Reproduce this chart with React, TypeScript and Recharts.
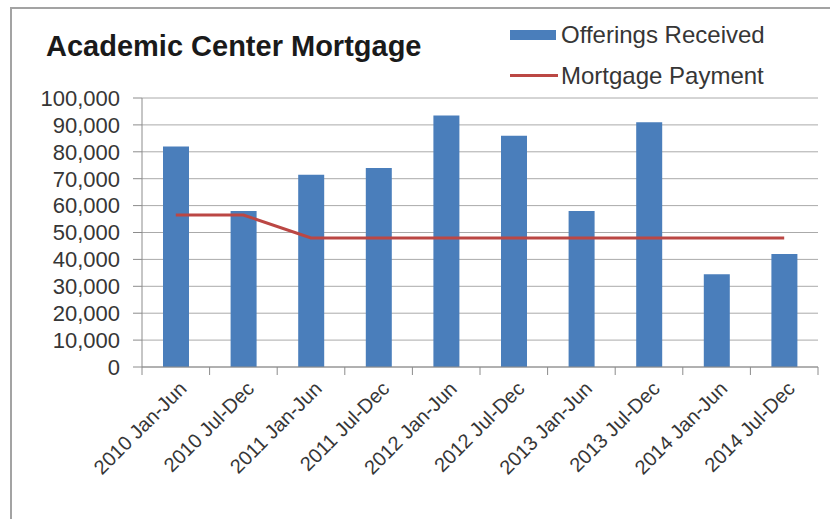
import { Bar, CartesianGrid, ComposedChart, Line, XAxis, YAxis } from "recharts";

const periods = [
  "2010 Jan-Jun",
  "2010 Jul-Dec",
  "2011 Jan-Jun",
  "2011 Jul-Dec",
  "2012 Jan-Jun",
  "2012 Jul-Dec",
  "2013 Jan-Jun",
  "2013 Jul-Dec",
  "2014 Jan-Jun",
  "2014 Jul-Dec",
];
const offerings = [82000, 58000, 71500, 74000, 93500, 86000, 58000, 91000, 34500, 42000];
const mortgage = [56500, 56500, 48000, 48000, 48000, 48000, 48000, 48000, 48000, 48000];
const yTicks = [0, 10000, 20000, 30000, 40000, 50000, 60000, 70000, 80000, 90000, 100000];

const data = periods.map((p, i) => ({ period: p, offerings: offerings[i], mortgage: mortgage[i] }));

const BLUE = "#4a7ebb";
const RED = "#bb4744";
const AXIS = "#8c8c8c";
const TEXT = "#363636";
const FONT = "'Liberation Sans', Arial, sans-serif";

const fmt = (v: number) => v.toLocaleString("en-US");

// rotated label plus a tick mark on the category boundary (Excel style)
const XTick = (props: any) => {
  const { x, y, payload, index, width, visibleTicksCount } = props;
  const band = width / visibleTicksCount;
  const left = x - band / 2;
  return (
    <g>
      <line x1={left} y1={y - 8} x2={left} y2={y} stroke={AXIS} />
      {index === visibleTicksCount - 1 && (
        <line x1={x + band / 2} y1={y - 8} x2={x + band / 2} y2={y} stroke={AXIS} />
      )}
      <text
        x={x + 12}
        y={y + 15}
        textAnchor="end"
        transform={`rotate(-45, ${x + 12}, ${y + 15})`}
        fill={TEXT}
        fontSize={20}
        fontFamily={FONT}
      >
        {payload.value}
      </text>
    </g>
  );
};

const LegendBox = () => (
  <div
    style={{
      position: "absolute",
      left: 510,
      top: 14,
      fontFamily: FONT,
      fontSize: 24,
      color: TEXT,
      lineHeight: "41px",
    }}
  >
    <div style={{ display: "flex", alignItems: "center" }}>
      <span style={{ width: 46, height: 10, background: BLUE, marginRight: 5 }} />
      Offerings Received
    </div>
    <div style={{ display: "flex", alignItems: "center" }}>
      <span style={{ width: 48, height: 3, background: RED, marginRight: 3 }} />
      Mortgage Payment
    </div>
  </div>
);

export default function App() {
  return (
    <div style={{ position: "fixed", left: 0, top: 0, width: 830, height: 519, background: "#fff" }}>
      <div
        style={{
          position: "absolute",
          left: 10,
          top: 7,
          width: 830,
          height: 519,
          borderTop: "2px solid #a3a3a3",
          borderLeft: "2px solid #a3a3a3",
        }}
      />
      <div
        style={{
          position: "absolute",
          left: 46,
          top: 30,
          fontFamily: FONT,
          fontWeight: "bold",
          fontSize: 29,
          color: "#1a1a1a",
        }}
      >
        Academic Center Mortgage
      </div>
      <LegendBox />
      <ComposedChart
        width={830}
        height={519}
        data={data}
        margin={{ top: 98, right: 12, bottom: 0, left: 0 }}
        barSize={26}
        style={{ position: "absolute", left: 0, top: 0 }}
      >
        <CartesianGrid vertical={false} stroke="#aaaaaa" />
        <XAxis
          dataKey="period"
          interval={0}
          height={152}
          tickLine={false}
          stroke={AXIS}
          tick={<XTick />}
        />
        <YAxis
          width={142}
          domain={[0, 100000]}
          ticks={yTicks}
          interval={0}
          tickFormatter={fmt}
          tickSize={9}
          tickMargin={13}
          stroke={AXIS}
          tick={{ fill: TEXT, fontSize: 22, fontFamily: FONT }}
        />
        <Bar dataKey="offerings" name="Offerings Received" fill={BLUE} isAnimationActive={false} />
        <Line
          dataKey="mortgage"
          name="Mortgage Payment"
          type="linear"
          stroke={RED}
          strokeWidth={3}
          dot={false}
          isAnimationActive={false}
        />
      </ComposedChart>
    </div>
  );
}
